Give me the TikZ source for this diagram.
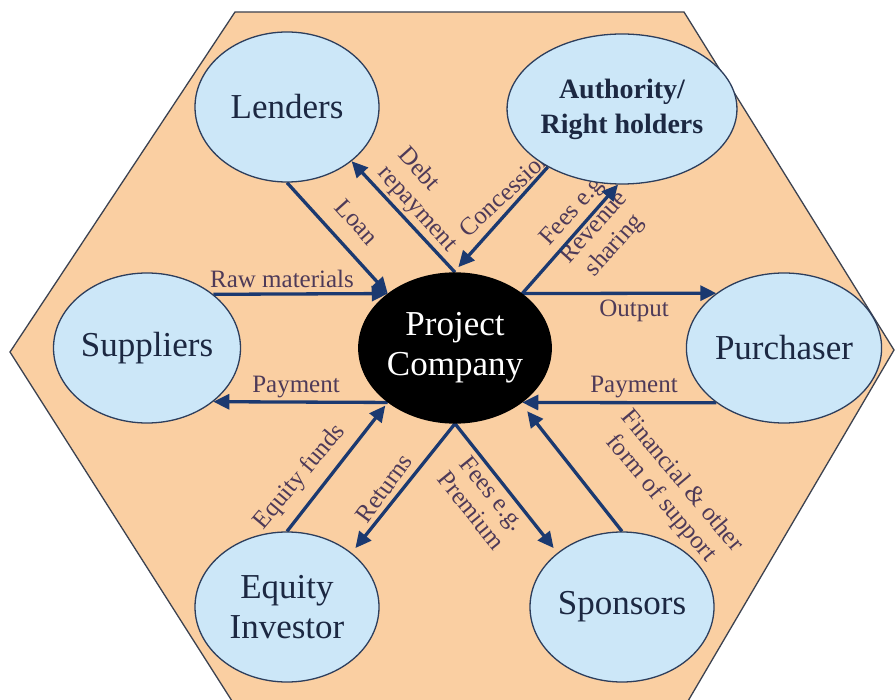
\documentclass[tikz,border=0pt]{standalone}
\usepackage{fontspec}
\setmainfont{Liberation Serif}
\usetikzlibrary{shapes.geometric,arrows.meta}
\pgfdeclarelayer{bg}
\pgfdeclarelayer{lbl}
\pgfsetlayers{bg,lbl,main}
\definecolor{peach}{RGB}{250,207,162}
\definecolor{ellfill}{RGB}{204,231,248}
\definecolor{ellline}{RGB}{45,62,92}
\definecolor{arrowblue}{RGB}{27,57,112}
\definecolor{lbltext}{RGB}{78,58,88}
\definecolor{nodetext}{RGB}{28,40,66}
\definecolor{hexline}{RGB}{60,66,80}
\tikzset{
  party/.style={ellipse, draw=ellline, line width=1.3pt, fill=ellfill,
    minimum width=184pt, minimum height=150pt, inner sep=0pt,
    text=nodetext, font=\fontsize{35}{40}\selectfont, align=center},
  flow/.style={draw=arrowblue, line width=3.3pt, -{Triangle[length=16pt,width=15pt]}},
  lbl/.style={text=lbltext, font=\fontsize{25}{27}\selectfont, inner sep=0pt, align=center},
}
\begin{document}
\begin{tikzpicture}[x=1pt,y=-1pt]
\useasboundingbox (0,0) rectangle (896,700);
\begin{pgfonlayer}{bg}
  \fill[white] (0,0) rectangle (896,700);
  \filldraw[fill=peach, draw=hexline, line width=1.3pt]
    (235,12) -- (684,12) -- (894,350) -- (688,701) -- (232,701) -- (10,352) -- cycle;
\end{pgfonlayer}
% parties
\node[party] (len) at (287,107) {Lenders};
\node[party, font=\fontsize{28}{35}\selectfont\bfseries] (auth) at (622,109) {Authority/\\Right holders};
\node[party] (sup) at (147,348) {Suppliers};
\node[party] (pur) at (784,348) {Purchaser};
\node[party, fill=black, draw=black, text=white] (pc) at (455,348) {Project\\Company};
\node[party] (ei) at (287,607) {Equity\\Investor};
\node[party] (spo) at (622,607) {Sponsors};
\begin{pgfonlayer}{lbl}
  % labels
  \node[lbl, rotate=-48] (tLoan) at (357,222) {Loan};
  \node[lbl, rotate=-48, align=left] (tDebt) at (427,200) {Debt\\repayment};
  \node[lbl, rotate=43] (tConc) at (505,193) {Concession};
  \node[lbl, rotate=48] (tFeesA) at (595,228) {Fees e.g.\\Revenue\\sharing};
  \node[lbl] (tRaw) at (282,279) {Raw materials};
  \node[lbl] (tOut) at (634,311) {Output};
  \node[lbl] (tPayL) at (296,387) {Payment};
  \node[lbl] (tPayR) at (634,387) {Payment};
  \node[lbl, rotate=50] (tEq) at (300,477) {Equity funds};
  \node[lbl, rotate=54] (tRet) at (384,488) {Returns};
  \node[lbl, rotate=-51] (tFeesB) at (482,502) {Fees e.g.\\Premium};
  \node[lbl, rotate=-50] (tFin) at (671,490) {Financial \& other\\form of support};
  % flows
  \draw[flow] (len.-90) -- (pc.141);
  \draw[flow] (pc.90) -- (len.-40);
  \draw[flow, shorten >=7pt] (auth.218) -- (pc.91);
  \draw[flow] (pc.39) -- (auth.-93);
  \draw[flow] (sup.39) -- (pc.141);
  \draw[flow] (pc.39) -- (pur.141);
  \draw[flow] (pc.-141) -- (sup.-39);
  \draw[flow] (pur.-141) -- (pc.-39);
  \draw[flow, shorten >=4pt] (ei.90) -- (pc.-141);
  \draw[flow, shorten >=6pt] (pc.-90) -- (ei.40);
  \draw[flow, shorten >=6pt] (pc.-90) -- (spo.140);
  \draw[flow, shorten >=10pt] (spo.90) -- (pc.-40);
\end{pgfonlayer}
\end{tikzpicture}
\end{document}
